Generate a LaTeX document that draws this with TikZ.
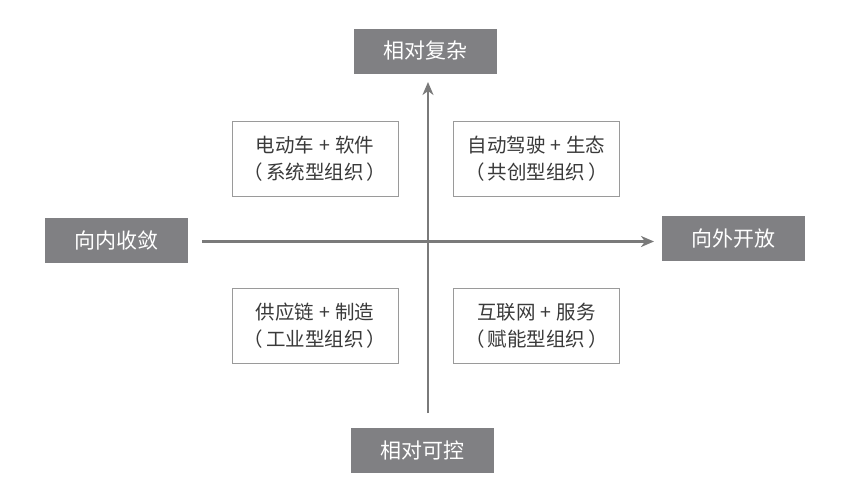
\documentclass[tikz,border=0pt]{standalone}
\usepackage{fontspec}
\setmainfont{Liberation Serif}
\newfontfamily\cjk{Noto Sans CJK SC}
\usetikzlibrary{arrows.meta}
\definecolor{labgray}{HTML}{808083}
\definecolor{axisgray}{HTML}{7A7A7A}
\definecolor{boxgray}{HTML}{9A9A9A}
\definecolor{txtgray}{HTML}{3A3A3A}
\newcommand{\pgap}{\hspace{3pt}}
\newcommand{\plusgap}{\hspace{5pt}+\hspace{5pt}}
\begin{document}
\begin{tikzpicture}[x=1pt,y=-1pt,
  axislabel/.style={fill=labgray,text=white,font=\cjk\fontsize{21}{24}\selectfont,minimum width=143pt,minimum height=45pt,inner sep=0pt},
  quadbox/.style={draw=boxgray,line width=1pt,text=txtgray,font=\cjk\fontsize{19.5}{27}\selectfont,minimum width=166pt,minimum height=75pt,align=center,inner sep=0pt},
  axis/.style={draw=axisgray,line width=2.4pt},
  tip/.style={-{Stealth[length=13pt,width=11pt,inset=4pt]}}]
\useasboundingbox (0,0) rectangle (865,482);
\fill[white] (0,0) rectangle (865,482);
\node[axislabel] (top) at (425.5,51) {相对复杂};
\node[axislabel] (bottom) at (422.5,450.5) {相对可控};
\node[axislabel] (left) at (116.5,240.5) {向内收敛};
\node[axislabel] (right) at (733.5,238.5) {向外开放};
\coordinate (vb) at (428,413);
\coordinate (vt) at (428,82);
\coordinate (hl) at (202,241.5);
\coordinate (hr) at (654,241.5);
\draw[axis,tip] (vb) -- (vt);
\draw[axis,tip] (hl) -- (hr);
\node[quadbox] (q1) at (315,159) {电动车\plusgap 软件\\（\pgap 系统型组织\pgap ）};
\node[quadbox] (q2) at (536.5,159) {自动驾驶\plusgap 生态\\（\pgap 共创型组织\pgap ）};
\node[quadbox] (q3) at (315,325.5) {供应链\plusgap 制造\\（\pgap 工业型组织\pgap ）};
\node[quadbox] (q4) at (536.5,325.5) {互联网\plusgap 服务\\（\pgap 赋能型组织\pgap ）};
\end{tikzpicture}
\end{document}
